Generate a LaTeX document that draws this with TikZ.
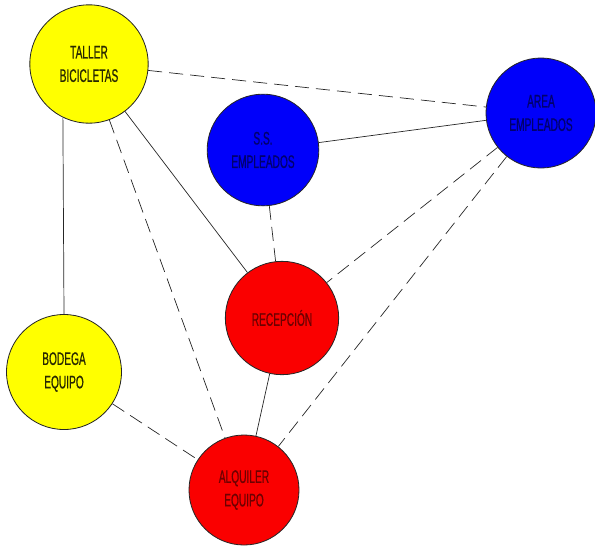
\documentclass[tikz,border=0pt]{standalone}
\usepackage{fontspec}
\setmainfont[FakeStretch=0.56,FakeBold=0.6]{Liberation Sans}
\definecolor{yel}{RGB}{255,255,0}
\definecolor{blu}{RGB}{0,0,250}
\definecolor{rd}{RGB}{250,0,0}
\definecolor{bluetext}{RGB}{0,0,110}
\definecolor{redtext}{RGB}{110,0,0}
\definecolor{yeltext}{RGB}{40,40,0}
\begin{document}
\begin{tikzpicture}[x=0.03cm,y=-0.03cm,
  room/.style={circle,draw=black!85,line width=0.7pt,inner sep=0pt,align=center,
    font=\fontsize{15.5}{20}\selectfont,minimum size=3.4cm},
  yroom/.style={room,fill=yel,text=yeltext},
  broom/.style={room,fill=blu,text=bluetext},
  rroom/.style={room,fill=rd,text=redtext},
  solidlink/.style={draw=black!85,line width=0.6pt},
  dashlink/.style={draw=black!85,line width=0.6pt,dash pattern=on 12pt off 6pt}]
\useasboundingbox (0,0) rectangle (595,550);
\node[yroom,minimum size=3.55cm] (taller) at (89,64) {TALLER\\BICICLETAS};
\node[broom,minimum size=3.35cm] (ss) at (263,150) {S.S.\\EMPLEADOS};
\node[broom,minimum size=3.3cm] (area) at (541,113) {AREA\\EMPLEADOS};
\node[rroom] (recep) at (282,318) {RECEPCIÓN};
\node[yroom,minimum size=3.45cm] (bodega) at (64,372) {BODEGA\\EQUIPO};
\node[rroom,minimum size=3.3cm] (alq) at (244,490) {ALQUILER\\EQUIPO};
\draw[dashlink] (taller) -- (area);
\draw[solidlink] (taller.244) -- (bodega.north);
\draw[dashlink] (taller) -- (alq);
\draw[solidlink] (taller) -- (recep);
\draw[solidlink] (ss) -- (area);
\draw[dashlink] (ss) -- (recep);
\draw[dashlink] (area) -- (recep);
\draw[dashlink] (area) -- (alq);
\draw[solidlink] (recep) -- (alq);
\draw[dashlink] (bodega) -- (alq);
\end{tikzpicture}
\end{document}
